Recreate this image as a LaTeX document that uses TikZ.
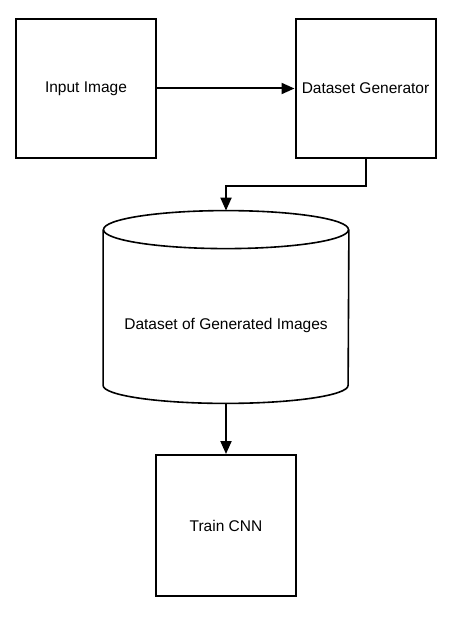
\documentclass[tikz,border=0pt]{standalone}
\usepackage{fontspec}
\setmainfont{Liberation Sans}
\usetikzlibrary{arrows.meta}
\begin{document}
\begin{tikzpicture}[x=1pt, y=-1pt, thick,
    main node/.style={rectangle,draw,line width=2pt,minimum width=140pt,minimum height=139pt,inner sep=0pt,font=\fontsize{15.5}{18}\selectfont},
    store node/.style={rectangle,minimum width=245pt,minimum height=192pt,inner sep=0pt},
    store line/.style={line width=1.6pt},
    link/.style={line width=2pt,-{Triangle[length=13pt,width=11pt]}}]

    \useasboundingbox (0,0) rectangle (450,617);

    \node[main node] (input) at (86,88.5) {Input Image};
    \node[main node] (gen) at (365.5,88.5) {Dataset Generator};
    \node[store node, label={[yshift=-18pt,font=\fontsize{15.5}{18}\selectfont]center:Dataset of Generated Images}] (data) at (226,307) {};
    \node[main node, minimum height=141pt] (train) at (226,525.5) {Train CNN};

    % cylinder outline
    \draw[store line] ([yshift=-19pt]data.north) ellipse [x radius=122.5pt, y radius=19pt];
    \draw[store line] ([yshift=-19pt]data.north west) -- ([yshift=18pt]data.south west)
        arc[start angle=180, end angle=360, x radius=122.5pt, y radius=18pt] -- ([yshift=-19pt]data.north east);

    \draw[link] (input) -- (gen);
    \draw[link] (gen.south) -- ++(0,27) -| (data.north);
    \draw[link] (data.south) -- (train.north);
\end{tikzpicture}
\end{document}
